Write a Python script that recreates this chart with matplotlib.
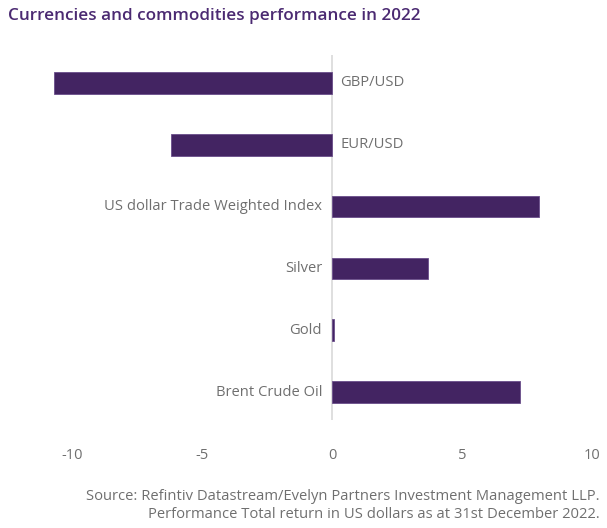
import matplotlib
matplotlib.use("Agg")
import matplotlib.pyplot as plt

categories = ["GBP/USD", "EUR/USD", "US dollar Trade Weighted Index",
              "Silver", "Gold", "Brent Crude Oil"]
values = [-10.7, -6.2, 7.95, 3.7, 0.07, 7.25]
xticks = [-10, -5, 0, 5, 10]

bar_color = "#432462"
text_gray = "#6f6f6f"

plt.rcParams['font.family'] = ['Open Sans', 'DejaVu Sans']

fig = plt.figure(figsize=(6.07, 5.28), dpi=100)
ax = fig.add_axes([40 / 607, 108 / 528, 560 / 607, 365 / 528])

y = list(range(len(categories)))
ax.barh(y, values, height=0.35, color=bar_color, edgecolor="#6a4d8a", linewidth=0.6, zorder=3)
ax.axvline(0, color="#dcdcdc", linewidth=1.3, zorder=2)

for yi, cat, v in zip(y, categories, values):
    if v < 0:
        ax.text(0.33, yi, cat, ha="left", va="center", fontsize=10.6, color=text_gray)
    else:
        ax.text(-0.38, yi, cat, ha="right", va="center", fontsize=10.6, color=text_gray)

ax.set_xlim(-11.23, 10.31)
ax.set_ylim(5.45, -0.45)
ax.set_xticks(xticks)
ax.set_xticklabels([str(t) for t in xticks])
ax.set_yticks([])
ax.tick_params(axis="x", length=0, pad=20, labelsize=10.5, labelcolor=text_gray)
for s in ax.spines.values():
    s.set_visible(False)

fig.text(8 / 607, 1 - 16 / 528, "Currencies and commodities performance in 2022",
         ha="left", va="center", fontsize=12.3, fontweight="semibold", color="#4b2a72")
fig.text(600 / 607, 1 - 496 / 528,
         "Source: Refintiv Datastream/Evelyn Partners Investment Management LLP.",
         ha="right", va="center", fontsize=10.6, color=text_gray)
fig.text(600 / 607, 1 - 514 / 528,
         "Performance Total return in US dollars as at 31st December 2022.",
         ha="right", va="center", fontsize=10.6, color=text_gray)

fig.savefig("out.png", dpi=100)
